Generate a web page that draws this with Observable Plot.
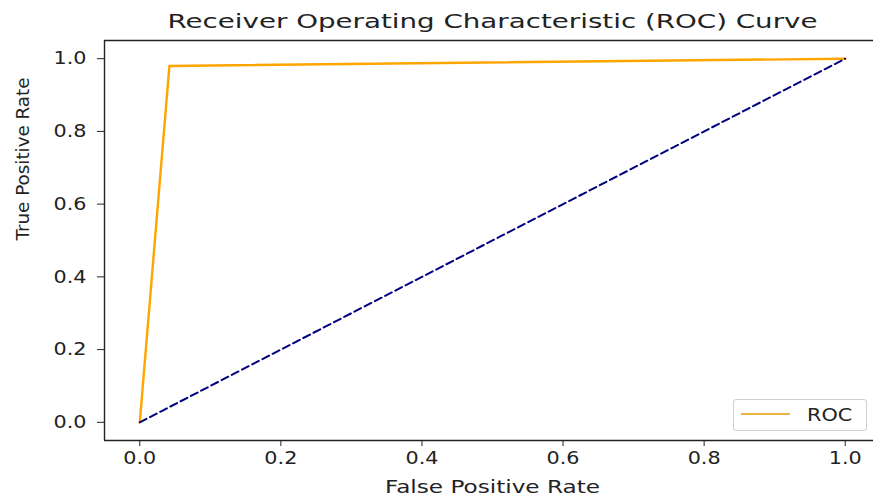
<!DOCTYPE html>
<html>
<head>
<meta charset="utf-8">
<script src="https://cdn.jsdelivr.net/npm/d3@7"></script>
<script src="https://cdn.jsdelivr.net/npm/@observablehq/plot@0.6"></script>
<style>
  html, body { margin: 0; padding: 0; background: #fff; overflow: hidden; width: 873px; height: 502px; }
  #wrap { position: relative; width: 873px; height: 502px; overflow: hidden; }
  #legend { position: absolute; left: 733px; top: 399px; width: 134px; height: 32px; border: 1px solid #d0d0d0; border-radius: 3px; background: rgba(255,255,255,0.85); box-sizing: border-box; font-family: "DejaVu Sans", sans-serif; font-size: 18px; color: #222; }
  #legend .sw { position: absolute; left: 7px; top: 13px; width: 49px; height: 0; border-top: 2.5px solid #e9b548; }
  #legend .lb { position: absolute; left: 73px; top: 4px; display: inline-block; transform: scaleX(1.15); transform-origin: left center; }
</style>
</head>
<body>
<div id="wrap"><div id="chart"></div><div id="legend"><span class="sw"></span><span class="lb">ROC</span></div></div>
<script>
// ROC curve points
const rocFpr = [0.0, 0.042, 1.0];
const rocTpr = [0.0, 0.98, 1.0];
// chance diagonal
const diagX = [0, 1];
const diagY = [0, 1];
// axis limits and ticks
const xDomain = [-0.05, 1.05];
const yDomain = [-0.05, 1.05];
const xTicks = [0.0, 0.2, 0.4, 0.6, 0.8, 1.0];
const yTicks = [0.0, 0.2, 0.4, 0.6, 0.8, 1.0];
const titleText = "Receiver Operating Characteristic (ROC) Curve";
const xLabel = "False Positive Rate";
const yLabel = "True Positive Rate";
const legendLabel = "ROC";

const roc = rocFpr.map((x, i) => ({x, y: rocTpr[i]}));
const diag = diagX.map((x, i) => ({x, y: diagY[i]}));

const font = "DejaVu Sans, sans-serif";
const spine = {stroke: "#222", strokeWidth: 1.4};
const plot = Plot.plot({
  width: 873,
  height: 502,
  marginLeft: 104,
  marginRight: 0,
  marginTop: 40,
  marginBottom: 62,
  style: {fontFamily: font, fontSize: "18px", color: "#222", background: "white"},
  x: {domain: xDomain, range: [104, 880]},
  y: {domain: yDomain},
  marks: [
    Plot.line(roc, {x: "x", y: "y", stroke: "orange", strokeWidth: 2.4}),
    Plot.line(diag, {x: "x", y: "y", stroke: "navy", strokeWidth: 2, strokeDasharray: "7.5,4"}),
    Plot.ruleY(yDomain, spine),
    Plot.ruleX([xDomain[0]], spine),
    Plot.axisX({ticks: xTicks, tickFormat: d => d.toFixed(1), tickSize: 6, tickPadding: 5, label: null, stroke: "#222", fontSize: 18, className: "ax"}),
    Plot.axisY({ticks: yTicks, tickFormat: d => d.toFixed(1), tickSize: 7, tickPadding: 11, label: null, stroke: "#222", fontSize: 18, className: "ay"}),
    Plot.text([titleText], {text: d => d, frameAnchor: "top", dy: -19, dx: 3.5, lineAnchor: "middle", fontSize: 19, fill: "#222", className: "ttl"}),
    Plot.text([xLabel], {text: d => d, frameAnchor: "bottom", dy: 47, dx: 3.5, lineAnchor: "middle", fontSize: 17, fill: "#222", className: "xl"}),
    Plot.text([yLabel], {text: d => d, frameAnchor: "left", dx: -81, rotate: -90, lineAnchor: "middle", fontSize: 18, fill: "#222", className: "yl"})
  ]
});
document.getElementById("chart").appendChild(plot);
const svg = d3.select(plot);
svg.selectAll(".ttl text").attr("textLength", 650).attr("lengthAdjust", "spacingAndGlyphs");
svg.selectAll(".xl text").attr("textLength", 215).attr("lengthAdjust", "spacingAndGlyphs");
svg.selectAll(".yl text").attr("textLength", 163).attr("lengthAdjust", "spacingAndGlyphs");
svg.selectAll(".ax text, .ay text").attr("textLength", 33).attr("lengthAdjust", "spacingAndGlyphs");
document.querySelector("#legend .lb").textContent = legendLabel;
</script>
</body>
</html>
